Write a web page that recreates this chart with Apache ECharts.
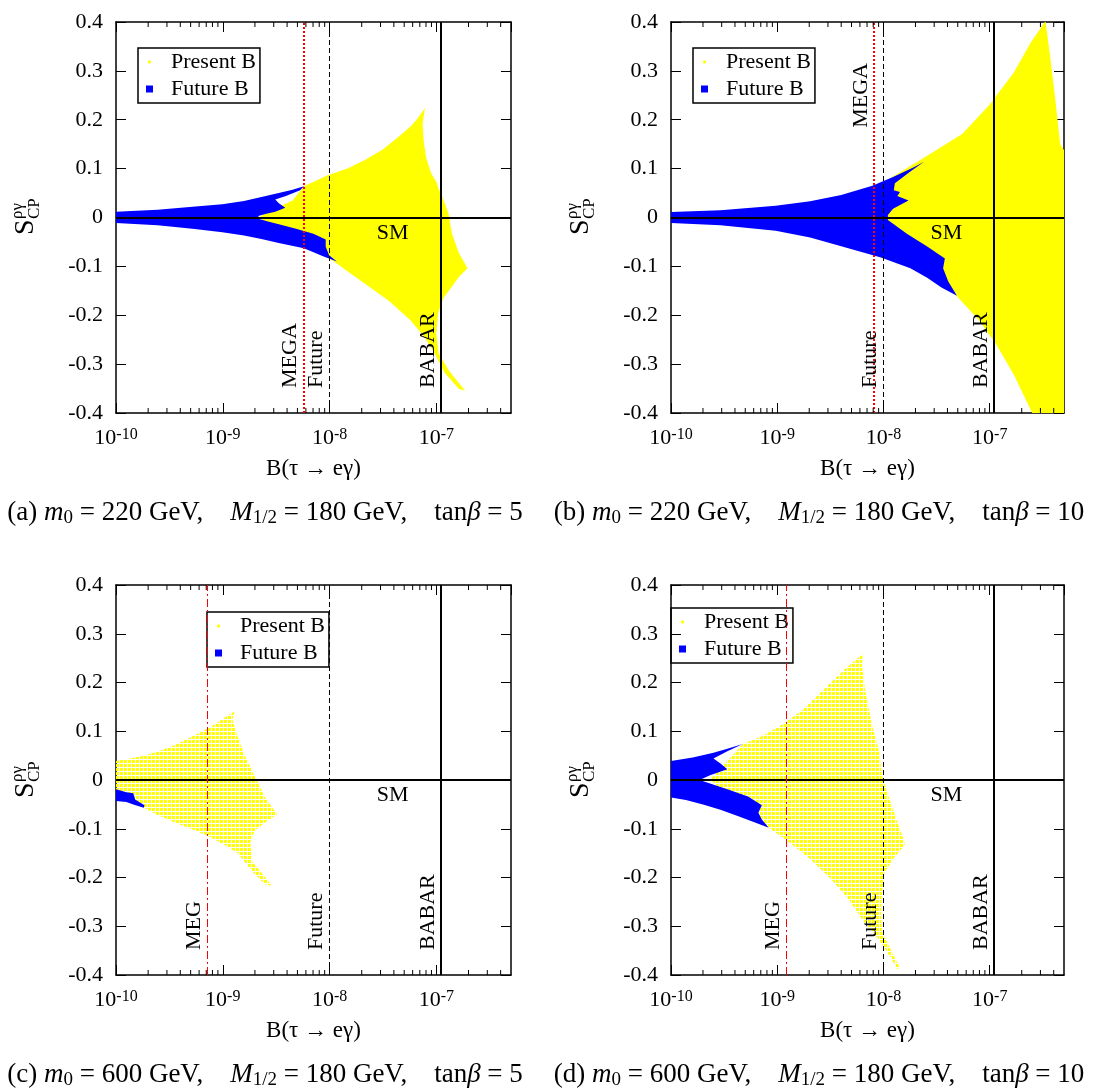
<!DOCTYPE html>
<html>
<head>
<meta charset="utf-8">
<script src="https://cdn.jsdelivr.net/npm/echarts@6/dist/echarts.min.js"></script>
<style>
  html, body { margin: 0; background: #fff; }
  #main { width: 1095px; height: 1088px; }
</style>
</head>
<body>
<div id="main"></div>
<script>
// axis ranges and ticks
const xMin = 1e-10
const xMax = 5e-7
const yMin = -0.4
const yMax = 0.4
const majorTicks = [1e-10, 1e-9, 1e-8, 1e-7]
const minorMantissa = [2, 3, 4, 5, 6, 7, 8, 9]

// region outlines: [B(tau -> e gamma), S_CP]
// (a) m0 = 220, tanb = 5
const presentA = [
  [5.75e-9, 0.064], [9.5e-9, 0.086], [1.49e-8, 0.101], [2.16e-8, 0.118], [3.15e-8, 0.139],
  [4.57e-8, 0.168], [5.72e-8, 0.186], [6.64e-8, 0.202], [7.82e-8, 0.224], [7.43e-8, 0.192],
  [7.6e-8, 0.158], [8.0e-8, 0.124], [8.95e-8, 0.090], [1.0e-7, 0.073], [1.05e-7, 0.059],
  [1.2e-7, 0.029], [1.3e-7, 0.008], [1.4e-7, -0.033], [1.63e-7, -0.073], [1.96e-7, -0.104],
  [1.63e-7, -0.121], [1.4e-7, -0.141], [1.16e-7, -0.165], [1.04e-7, -0.196], [1.0e-7, -0.237],
  [1.05e-7, -0.278], [1.3e-7, -0.312], [1.63e-7, -0.339], [1.86e-7, -0.354], [1.63e-7, -0.351],
  [1.2e-7, -0.318], [9.6e-8, -0.278], [7.7e-8, -0.244], [5.72e-8, -0.210], [3.65e-8, -0.172],
  [2.33e-8, -0.141], [1.49e-8, -0.111], [1.17e-8, -0.094], [7.05e-9, -0.060], [4.5e-9, -0.039],
  [2.48e-9, -0.009], [2.2e-9, 0], [2.48e-9, 0.008], [4.5e-9, 0.035]
]
const futureA = [
  [1e-10, 0.012], [2.45e-10, 0.016], [5.2e-10, 0.022], [9.9e-10, 0.027], [1.58e-9, 0.034],
  [2.3e-9, 0.042], [3.34e-9, 0.050], [4.5e-9, 0.057], [5.75e-9, 0.064], [5.3e-9, 0.056],
  [3.9e-9, 0.044], [3.1e-9, 0.037], [3.35e-9, 0.029], [3.85e-9, 0.020], [3.1e-9, 0.012],
  [2.5e-9, 0.007], [2.15e-9, 0.003], [2.2e-9, -0.003], [2.65e-9, -0.008], [3.35e-9, -0.014],
  [4.85e-9, -0.023], [7.05e-9, -0.033], [9.2e-9, -0.045], [9.2e-9, -0.060], [9.9e-9, -0.077],
  [1.17e-8, -0.090], [8.8e-9, -0.080], [5.75e-9, -0.063], [3.34e-9, -0.052], [2.3e-9, -0.044],
  [1.58e-9, -0.037], [9.9e-10, -0.030], [5.2e-10, -0.023], [2.45e-10, -0.016], [1e-10, -0.011]
]
// (b) m0 = 220, tanb = 10
const presentB = [
  [9.1e-9, 0.066], [1.23e-8, 0.084], [2.6e-8, 0.127], [5.5e-8, 0.171], [1.0e-7, 0.231],
  [1.69e-7, 0.297], [2.45e-7, 0.359], [3.35e-7, 0.402], [3.7e-7, 0.330], [4.15e-7, 0.240],
  [4.6e-7, 0.150], [6e-7, 0.110], [6e-7, -0.41], [2.64e-7, -0.41], [1.69e-7, -0.322],
  [1.16e-7, -0.261], [8.0e-8, -0.211], [4.9e-8, -0.161], [1.23e-8, -0.019], [9.1e-9, -0.005]
]
const futureB = [
  [1e-10, 0.011], [2.92e-10, 0.015], [9.66e-10, 0.024], [2.04e-9, 0.033], [4.0e-9, 0.046],
  [7.85e-9, 0.065], [1.23e-8, 0.083], [1.93e-8, 0.103], [2.41e-8, 0.114], [1.79e-8, 0.094],
  [1.28e-8, 0.070], [1.25e-8, 0.056], [1.43e-8, 0.052], [1.35e-8, 0.044], [1.72e-8, 0.035],
  [1.23e-8, 0.018], [1.1e-8, 0.005], [1.1e-8, -0.005], [1.66e-8, -0.033], [2.6e-8, -0.060],
  [3.78e-8, -0.084], [3.64e-8, -0.104], [4.07e-8, -0.131], [4.91e-8, -0.160], [3.51e-8, -0.143],
  [2.6e-8, -0.124], [1.79e-8, -0.104], [9.46e-9, -0.082], [4.32e-9, -0.061], [2.04e-9, -0.041],
  [9.66e-10, -0.027], [2.92e-10, -0.016], [1e-10, -0.011]
]
// (c) m0 = 600, tanb = 5
const presentC = [
  [1e-10, 0.039], [1.69e-10, 0.048], [2.45e-10, 0.058], [3.56e-10, 0.072], [5.17e-10, 0.089],
  [7.51e-10, 0.107], [1.01e-9, 0.126], [1.29e-9, 0.141], [1.23e-9, 0.124], [1.37e-9, 0.090],
  [1.58e-9, 0.053], [1.98e-9, 0.008], [2.48e-9, -0.036], [3.22e-9, -0.070], [2.48e-9, -0.087],
  [1.98e-9, -0.104], [1.81e-9, -0.128], [1.87e-9, -0.166], [2.22e-9, -0.186], [2.88e-9, -0.217],
  [2.48e-9, -0.214], [1.98e-9, -0.193], [1.58e-9, -0.166], [1.37e-9, -0.149], [1.01e-9, -0.132],
  [6.97e-10, -0.113], [3.56e-10, -0.087], [2.45e-10, -0.072], [1.82e-10, -0.057], [1e-10, -0.026]
]
const futureC = [
  [1e-10, -0.019], [1.25e-10, -0.025], [1.45e-10, -0.027], [1.51e-10, -0.040], [1.85e-10, -0.052],
  [1.82e-10, -0.057], [1.45e-10, -0.050], [1.25e-10, -0.045], [1e-10, -0.043]
]
// (d) m0 = 600, tanb = 10
const presentD = [
  [4.74e-10, 0.074], [7.16e-10, 0.090], [1.12e-9, 0.114], [1.76e-9, 0.145], [2.75e-9, 0.186],
  [4.32e-9, 0.227], [6.37e-9, 0.259], [6.27e-9, 0.233], [6.76e-9, 0.179], [7.85e-9, 0.111],
  [9.12e-9, 0.056], [9.68e-9, 0.008], [1.14e-8, -0.040], [1.32e-8, -0.081], [1.6e-8, -0.132],
  [1.23e-8, -0.162], [1.02e-8, -0.190], [9.68e-9, -0.231], [9.46e-9, -0.272], [9.68e-9, -0.313],
  [1.14e-8, -0.343], [1.41e-8, -0.384], [1.35e-8, -0.388], [1.14e-8, -0.360], [8.46e-9, -0.319],
  [6.27e-9, -0.285], [4.65e-9, -0.244], [3.2e-9, -0.203], [2.04e-9, -0.162], [1.3e-9, -0.128],
  [8.32e-10, -0.098], [6.17e-10, -0.087], [2.51e-10, -0.005], [2.33e-10, 0.001]
]
const futureD = [
  [1e-10, 0.039], [1.6e-10, 0.046], [2.51e-10, 0.056], [3.39e-10, 0.064], [4.74e-10, 0.074],
  [3.39e-10, 0.059], [2.51e-10, 0.044], [2.92e-10, 0.034], [3.39e-10, 0.022], [2.33e-10, 0.010],
  [1.86e-10, 0], [2.33e-10, -0.007], [3.39e-10, -0.019], [5.31e-10, -0.034], [7.16e-10, -0.052],
  [6.64e-10, -0.067], [7.16e-10, -0.081], [8.32e-10, -0.098], [6.17e-10, -0.087], [4.24e-10, -0.074],
  [2.92e-10, -0.061], [2.0e-10, -0.050], [1.38e-10, -0.041], [1e-10, -0.036]
]

// experimental bounds
const megaX = [5.7e-9, 8.1e-9, 7.1e-10, 1.22e-9]
const megaNames = ['MEGA', 'MEGA', 'MEG', 'MEG']
const futureX = 1e-8
const babarX = 1.1e-7
const smPos = [3.9e-8, -0.032]

// captions
const captionTags = ['(a)', '(b)', '(c)', '(d)']
const m0Values = [220, 220, 600, 600]
const mHalfValues = [180, 180, 180, 180]
const tanBetaValues = [5, 10, 5, 10]

const FONT = "'Liberation Serif', 'Times New Roman', serif"
const YELLOW = '#ffff00'
const BLUE = '#0000ff'

const minorTicks = []
majorTicks.forEach(d => {
  minorMantissa.forEach(m => {
    if (m * d < xMax) minorTicks.push(m * d)
  })
})

const grids = [
  { left: 116, top: 22, width: 395, height: 391 },
  { left: 671, top: 22, width: 393, height: 391 },
  { left: 116, top: 585, width: 395, height: 390 },
  { left: 671, top: 585, width: 393, height: 390 }
]
const legendPos = [
  { left: 138, top: 48 },
  { left: 693, top: 48 },
  { left: 207, top: 612 },
  { left: 671, top: 608 }
]
const panelData = [
  { present: presentA, future: futureA, dotted: false, megaTop: false },
  { present: presentB, future: futureB, dotted: false, megaTop: true },
  { present: presentC, future: futureC, dotted: true, megaTop: false },
  { present: presentD, future: futureD, dotted: true, megaTop: false }
]

function dotPattern () {
  const c = document.createElement('canvas')
  c.width = 4
  c.height = 4
  const ctx = c.getContext('2d')
  ctx.fillStyle = YELLOW
  ctx.fillRect(0, 0, 3, 3)
  return c
}
const dots = dotPattern()

function xAxes (gi) {
  const common = {
    gridIndex: gi, type: 'log', logBase: 10, min: xMin, max: xMax,
    splitLine: { show: false },
    axisLine: { show: true, onZero: false, lineStyle: { color: '#000', width: 1.5 } },
    axisTick: { inside: true, length: 10, lineStyle: { color: '#000' } }
  }
  return [
    {
      ...common, position: 'bottom',
      axisLabel: {
        margin: 14, showMaxLabel: false,
        formatter: v => '{b|10}{s|' + Math.round(Math.log10(v)) + '}',
        rich: {
          b: { fontFamily: FONT, fontSize: 22, lineHeight: 22, color: '#000', verticalAlign: 'bottom' },
          s: { fontFamily: FONT, fontSize: 16, lineHeight: 16, color: '#000', verticalAlign: 'top', padding: [0, 0, 14, 0] }
        }
      },
      name: 'B(τ → eγ)', nameLocation: 'middle', nameGap: 44,
      nameTextStyle: { fontFamily: FONT, fontSize: 23, color: '#000' }
    },
    { ...common, position: 'top', axisLabel: { show: false } }
  ]
}

function yAxes (gi) {
  const common = {
    gridIndex: gi, type: 'value', min: yMin, max: yMax, interval: 0.1,
    splitLine: { show: false },
    axisLine: { show: true, onZero: false, lineStyle: { color: '#000', width: 1.5 } },
    axisTick: { inside: true, length: 10, lineStyle: { color: '#000' } }
  }
  return [
    { ...common, position: 'left', axisLabel: { fontFamily: FONT, fontSize: 22, color: '#000', margin: 13 } },
    { ...common, position: 'right', axisLabel: { show: false } }
  ]
}

// short log minor ticks on the bottom and top frame
function minorTickSeries (gi) {
  return {
    type: 'custom', coordinateSystem: 'cartesian2d',
    xAxisIndex: gi * 2, yAxisIndex: gi * 2, z: 6, silent: true, clip: false,
    data: minorTicks.map(v => [v, yMin]),
    renderItem (params, api) {
      const v = api.value(0)
      const b = api.coord([v, yMin])
      const t = api.coord([v, yMax])
      const s = { stroke: '#000', lineWidth: 1 }
      return {
        type: 'group',
        children: [
          { type: 'line', shape: { x1: b[0], y1: b[1], x2: b[0], y2: b[1] - 5 }, style: s },
          { type: 'line', shape: { x1: t[0], y1: t[1], x2: t[0], y2: t[1] + 5 }, style: s }
        ]
      }
    }
  }
}

function region (name, pts, color, gi, fill) {
  return {
    type: 'custom', name, coordinateSystem: 'cartesian2d',
    xAxisIndex: gi * 2, yAxisIndex: gi * 2,
    data: pts, clip: true, silent: true,
    itemStyle: { color },
    renderItem (params, api) {
      if (params.dataIndex !== 0) return null
      const points = pts.map(p => api.coord(p))
      return { type: 'polygon', shape: { points }, style: { fill: fill || color } }
    }
  }
}

const labelFont = { fontFamily: FONT, fontSize: 22, color: '#000' }

function vline (x, text, lineStyle, position, distance) {
  return [
    { coord: [x, yMin], lineStyle, label: { show: true, formatter: text, position, distance, ...labelFont } },
    { coord: [x, yMax] }
  ]
}

function annotations (gi) {
  const p = panelData[gi]
  const megaStyle = gi < 2
    ? { color: '#ff0000', width: 2, type: [2, 2] }
    : { color: '#ff0000', width: 1, type: [8, 3, 2, 3] }
  return {
    type: 'line', data: [], xAxisIndex: gi * 2, yAxisIndex: gi * 2, z: 5, silent: true,
    markLine: {
      symbol: ['none', 'none'], silent: true, animation: false,
      label: { show: false },
      data: [
        { yAxis: 0, lineStyle: { color: '#000', width: 2, type: 'solid' }, label: { show: false } },
        vline(megaX[gi], megaNames[gi], megaStyle,
          p.megaTop ? 'insideEndTop' : 'insideStartTop', p.megaTop ? [41, 2] : [25, 2]),
        vline(futureX, 'Future', { color: '#000', width: 1, type: [5, 3] }, 'insideStartTop', [25, 2]),
        vline(babarX, 'BABAR', { color: '#000', width: 2, type: 'solid' }, 'insideStartTop', [25, 2])
      ]
    },
    markPoint: {
      symbol: 'circle', symbolSize: 0, silent: true, animation: false,
      itemStyle: { color: 'transparent' },
      label: { show: true, position: 'inside', formatter: 'SM', ...labelFont },
      data: [{ coord: smPos }]
    }
  }
}

function yTitle (x0, y0) {
  return {
    type: 'group', x: x0, y: y0, rotation: Math.PI / 2, silent: true,
    children: [
      { type: 'text', x: 0, y: 0, style: { text: 'S', fontFamily: FONT, fontSize: 28, fill: '#000', align: 'left', verticalAlign: 'bottom' } },
      { type: 'text', x: 16, y: -14, style: { text: 'ργ', fontFamily: FONT, fontSize: 17, fill: '#000', align: 'left', verticalAlign: 'bottom' } },
      { type: 'text', x: 16, y: 3, style: { text: 'CP', fontFamily: FONT, fontSize: 17, fill: '#000', align: 'left', verticalAlign: 'bottom' } }
    ]
  }
}

function caption (gi, cx, cy) {
  return {
    type: 'text', x: cx, y: cy, silent: true,
    style: {
      text: captionTags[gi] + ' {i|m}{s|0} = ' + m0Values[gi] + ' GeV,    {i|M}{s|1/2} = ' +
        mHalfValues[gi] + ' GeV,    tan{i|β} = ' + tanBetaValues[gi],
      fontFamily: FONT, fontSize: 27, fill: '#000', align: 'center', verticalAlign: 'middle',
      rich: {
        i: { fontFamily: FONT, fontSize: 27, fontStyle: 'italic', fill: '#000' },
        s: { fontFamily: FONT, fontSize: 19, fill: '#000', verticalAlign: 'bottom', padding: [10, 0, 0, 0] }
      }
    }
  }
}

const series = []
let xAxis = []
let yAxis = []
grids.forEach((g, gi) => {
  xAxis = xAxis.concat(xAxes(gi))
  yAxis = yAxis.concat(yAxes(gi))
  const p = panelData[gi]
  const fill = p.dotted ? { image: dots, repeat: 'repeat' } : null
  series.push(region('Present B', p.present, YELLOW, gi, fill))
  series.push(region('Future B', p.future, BLUE, gi))
  series.push(annotations(gi))
  series.push(minorTickSeries(gi))
})

const option = {
  animation: false,
  backgroundColor: '#fff',
  grid: grids,
  xAxis,
  yAxis,
  legend: legendPos.map(pos => ({
    ...pos,
    data: [
      { name: 'Present B', icon: 'path://M0 0L0 0M10 10L10 10M3 3h4v4h-4z' },
      { name: 'Future B', icon: 'rect' }
    ],
    orient: 'vertical', selectedMode: false,
    borderColor: '#000', borderWidth: 1.5, padding: [3, 4, 3, 8],
    itemGap: 5, itemWidth: 7, itemHeight: 7,
    textStyle: { fontFamily: FONT, fontSize: 22, lineHeight: 22, color: '#000', padding: [0, 0, 0, 13] }
  })),
  series,
  graphic: [
    yTitle(40, 235), yTitle(595, 235), yTitle(40, 798), yTitle(595, 798),
    caption(0, 265, 513), caption(1, 819, 513), caption(2, 265, 1075), caption(3, 819, 1075)
  ]
}

const chart = echarts.init(document.getElementById('main'))
chart.setOption(option)
</script>
</body>
</html>
